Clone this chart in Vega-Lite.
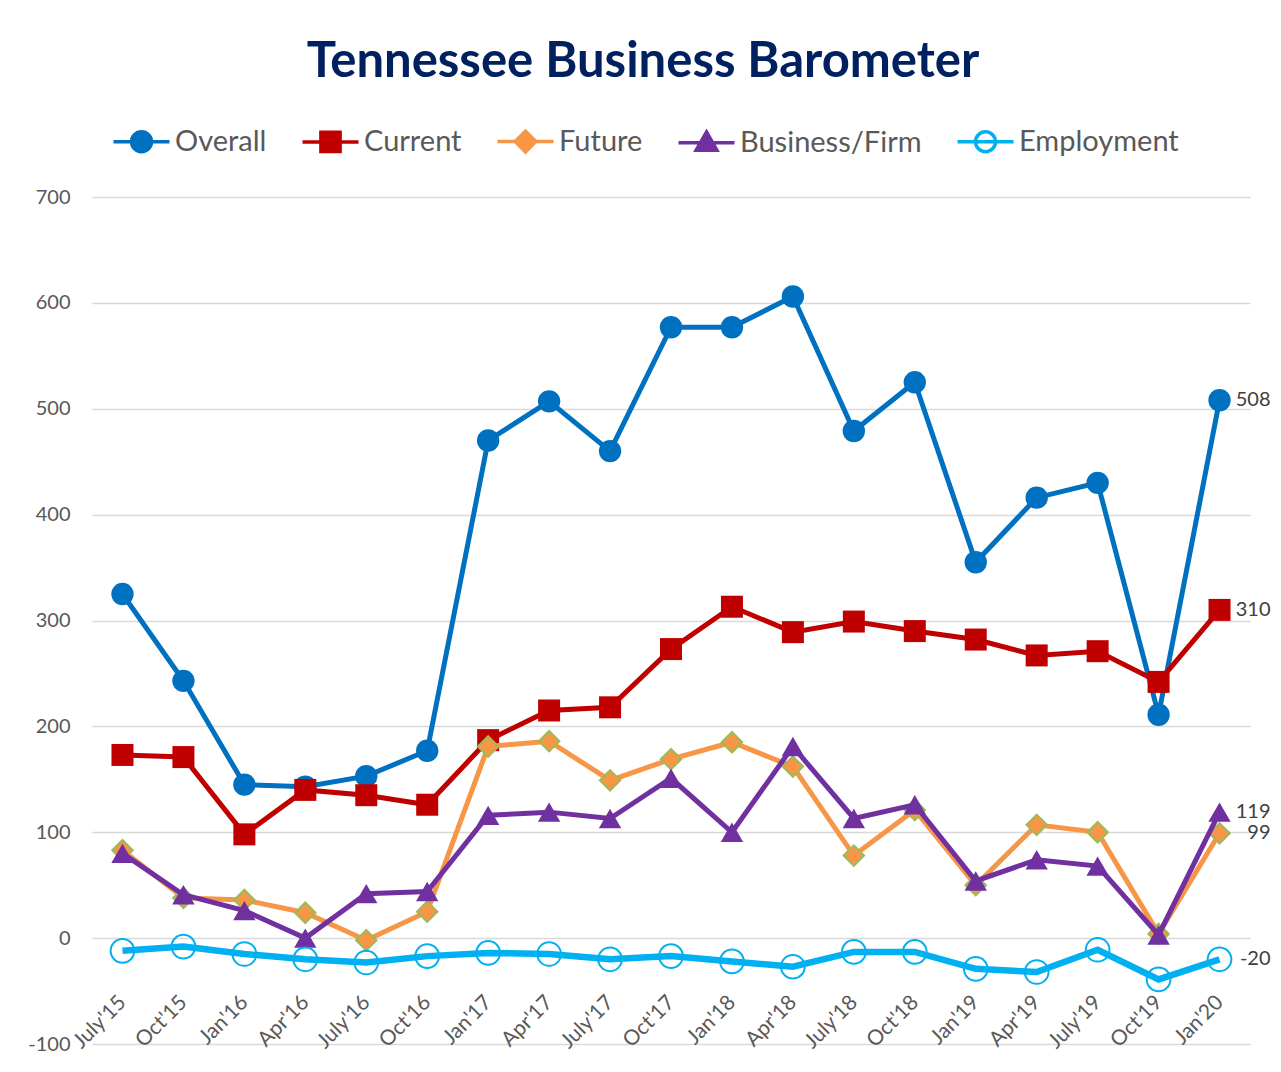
{
  "$schema": "https://vega.github.io/schema/vega-lite/v6.json",
  "width": 1158,
  "height": 847,
  "autosize": "none",
  "padding": {"left": 92, "top": 197, "right": 31, "bottom": 28},
  "background": "white",
  "title": {
    "text": "Tennessee Business Barometer",
    "font": "Lato",
    "fontSize": 49,
    "fontWeight": "bold",
    "color": "#002060",
    "anchor": "middle",
    "dx": -28,
    "offset": 40
  },
  "config": {
    "font": "Lato",
    "view": {"stroke": null}
  },
  "datasets": {
    "d": [
      {"m": "July'15", "s": "Overall", "v": 325}, {"m": "Oct'15", "s": "Overall", "v": 243}, {"m": "Jan'16", "s": "Overall", "v": 145}, {"m": "Apr'16", "s": "Overall", "v": 143}, {"m": "July'16", "s": "Overall", "v": 153}, {"m": "Oct'16", "s": "Overall", "v": 177}, {"m": "Jan'17", "s": "Overall", "v": 470}, {"m": "Apr'17", "s": "Overall", "v": 507}, {"m": "July'17", "s": "Overall", "v": 460}, {"m": "Oct'17", "s": "Overall", "v": 577}, {"m": "Jan'18", "s": "Overall", "v": 577}, {"m": "Apr'18", "s": "Overall", "v": 606}, {"m": "July'18", "s": "Overall", "v": 479}, {"m": "Oct'18", "s": "Overall", "v": 525}, {"m": "Jan'19", "s": "Overall", "v": 355}, {"m": "Apr'19", "s": "Overall", "v": 416}, {"m": "July'19", "s": "Overall", "v": 430}, {"m": "Oct'19", "s": "Overall", "v": 211}, {"m": "Jan'20", "s": "Overall", "v": 508},
      {"m": "July'15", "s": "Current", "v": 173}, {"m": "Oct'15", "s": "Current", "v": 171}, {"m": "Jan'16", "s": "Current", "v": 98}, {"m": "Apr'16", "s": "Current", "v": 140}, {"m": "July'16", "s": "Current", "v": 135}, {"m": "Oct'16", "s": "Current", "v": 126}, {"m": "Jan'17", "s": "Current", "v": 187}, {"m": "Apr'17", "s": "Current", "v": 215}, {"m": "July'17", "s": "Current", "v": 218}, {"m": "Oct'17", "s": "Current", "v": 273}, {"m": "Jan'18", "s": "Current", "v": 313}, {"m": "Apr'18", "s": "Current", "v": 289}, {"m": "July'18", "s": "Current", "v": 299}, {"m": "Oct'18", "s": "Current", "v": 290}, {"m": "Jan'19", "s": "Current", "v": 282}, {"m": "Apr'19", "s": "Current", "v": 267}, {"m": "July'19", "s": "Current", "v": 271}, {"m": "Oct'19", "s": "Current", "v": 242}, {"m": "Jan'20", "s": "Current", "v": 310},
      {"m": "July'15", "s": "Future", "v": 83}, {"m": "Oct'15", "s": "Future", "v": 38}, {"m": "Jan'16", "s": "Future", "v": 36}, {"m": "Apr'16", "s": "Future", "v": 24}, {"m": "July'16", "s": "Future", "v": -2}, {"m": "Oct'16", "s": "Future", "v": 25}, {"m": "Jan'17", "s": "Future", "v": 181}, {"m": "Apr'17", "s": "Future", "v": 186}, {"m": "July'17", "s": "Future", "v": 149}, {"m": "Oct'17", "s": "Future", "v": 169}, {"m": "Jan'18", "s": "Future", "v": 185}, {"m": "Apr'18", "s": "Future", "v": 162}, {"m": "July'18", "s": "Future", "v": 78}, {"m": "Oct'18", "s": "Future", "v": 121}, {"m": "Jan'19", "s": "Future", "v": 50}, {"m": "Apr'19", "s": "Future", "v": 107}, {"m": "July'19", "s": "Future", "v": 100}, {"m": "Oct'19", "s": "Future", "v": 4}, {"m": "Jan'20", "s": "Future", "v": 99},
      {"m": "July'15", "s": "Business/Firm", "v": 80}, {"m": "Oct'15", "s": "Business/Firm", "v": 41}, {"m": "Jan'16", "s": "Business/Firm", "v": 26}, {"m": "Apr'16", "s": "Business/Firm", "v": 0}, {"m": "July'16", "s": "Business/Firm", "v": 42}, {"m": "Oct'16", "s": "Business/Firm", "v": 44}, {"m": "Jan'17", "s": "Business/Firm", "v": 116}, {"m": "Apr'17", "s": "Business/Firm", "v": 119}, {"m": "July'17", "s": "Business/Firm", "v": 113}, {"m": "Oct'17", "s": "Business/Firm", "v": 151}, {"m": "Jan'18", "s": "Business/Firm", "v": 100}, {"m": "Apr'18", "s": "Business/Firm", "v": 181}, {"m": "July'18", "s": "Business/Firm", "v": 113}, {"m": "Oct'18", "s": "Business/Firm", "v": 126}, {"m": "Jan'19", "s": "Business/Firm", "v": 54}, {"m": "Apr'19", "s": "Business/Firm", "v": 74}, {"m": "July'19", "s": "Business/Firm", "v": 68}, {"m": "Oct'19", "s": "Business/Firm", "v": 3}, {"m": "Jan'20", "s": "Business/Firm", "v": 119},
      {"m": "July'15", "s": "Employment", "v": -12}, {"m": "Oct'15", "s": "Employment", "v": -8}, {"m": "Jan'16", "s": "Employment", "v": -15}, {"m": "Apr'16", "s": "Employment", "v": -20}, {"m": "July'16", "s": "Employment", "v": -23}, {"m": "Oct'16", "s": "Employment", "v": -17}, {"m": "Jan'17", "s": "Employment", "v": -14}, {"m": "Apr'17", "s": "Employment", "v": -15}, {"m": "July'17", "s": "Employment", "v": -20}, {"m": "Oct'17", "s": "Employment", "v": -17}, {"m": "Jan'18", "s": "Employment", "v": -22}, {"m": "Apr'18", "s": "Employment", "v": -27}, {"m": "July'18", "s": "Employment", "v": -13}, {"m": "Oct'18", "s": "Employment", "v": -13}, {"m": "Jan'19", "s": "Employment", "v": -29}, {"m": "Apr'19", "s": "Employment", "v": -32}, {"m": "July'19", "s": "Employment", "v": -11}, {"m": "Oct'19", "s": "Employment", "v": -39}, {"m": "Jan'20", "s": "Employment", "v": -20}
    ]
  },
  "data": {"name": "d"},
  "encoding": {
    "x": {
      "field": "m", "type": "ordinal", "title": null,
      "scale": {"type": "point", "padding": 0.5, "domain": ["July'15","Oct'15","Jan'16","Apr'16","July'16","Oct'16","Jan'17","Apr'17","July'17","Oct'17","Jan'18","Apr'18","July'18","Oct'18","Jan'19","Apr'19","July'19","Oct'19","Jan'20"]},
      "axis": {"labelAngle": -45, "labelAlign": "right", "labelBaseline": "middle", "labelFont": "Lato", "labelFontSize": 21, "labelColor": "#595959", "domain": false, "ticks": false, "grid": false, "offset": -45, "labelPadding": 0}
    },
    "y": {
      "field": "v", "type": "quantitative", "title": null,
      "scale": {"domain": [-100, 700], "nice": false},
      "axis": {"values": [-100, 0, 100, 200, 300, 400, 500, 600, 700], "labelExpr": "toString(datum.value)", "labelFont": "Lato", "labelFontSize": 20, "labelColor": "#595959", "labelPadding": 22, "domain": false, "ticks": false, "grid": true, "gridColor": "#D9D9D9", "gridWidth": 1.5}
    }
  },
  "layer": [
    {
      "transform": [{"filter": "false"}],
      "mark": {"type": "point", "filled": true, "size": 256, "opacity": 1},
      "encoding": {
        "fill": {"field": "s", "type": "nominal", "scale": {"domain": ["Overall", "Current", "Future", "Business/Firm", "Employment"], "range": ["#0070C0", "#C00000", "#F79646", "#7030A0", "white"]}, "legend": {
          "orient": "none", "direction": "horizontal", "legendX": 35, "legendY": -70,
          "title": null, "padding": 0, "labelLimit": 0,
          "labelFont": "Lato", "labelFontSize": 29, "labelColor": "#595959",
          "labelOffset": 19, "columnPadding": 28, "symbolSize": 256, "symbolStrokeWidth": 3.5, "symbolOpacity": 1
        }},
        "stroke": {"field": "s", "type": "nominal", "scale": {"domain": ["Overall", "Current", "Future", "Business/Firm", "Employment"], "range": ["#0070C0", "#C00000", "#F79646", "#7030A0", "#00B0F0"]}},
        "shape": {"field": "s", "type": "nominal", "scale": {"domain": ["Overall", "Current", "Future", "Business/Firm", "Employment"], "range": [
          "M-3.5,0H3.5M-1.25,0A1.25,1.25 0 1,0 1.25,0A1.25,1.25 0 1,0 -1.25,0Z",
          "M-3.5,0H3.5M-1.2,-1.2H1.2V1.2H-1.2Z",
          "M-3.5,0H3.5M-1.3,0L0,-1.3L1.3,0L0,1.3Z",
          "M-3.5,0H3.5M0,-1.35L1.3,0.95L-1.3,0.95Z",
          "M-3.5,0H3.5M-1.25,0A1.25,1.25 0 1,0 1.25,0A1.25,1.25 0 1,0 -1.25,0Z"
        ]}}
      }
    },
    {"transform": [{"filter": "datum.s === 'Overall'"}], "mark": {"type": "line", "strokeWidth": 5, "color": "#0070C0"}},
    {"transform": [{"filter": "datum.s === 'Overall'"}], "mark": {"type": "point", "shape": "circle", "filled": true, "size": 500, "color": "#0070C0", "opacity": 1}},
    {"transform": [{"filter": "datum.s === 'Current'"}], "mark": {"type": "line", "strokeWidth": 5, "color": "#C00000"}},
    {"transform": [{"filter": "datum.s === 'Current'"}], "mark": {"type": "point", "shape": "square", "filled": true, "size": 484, "color": "#C00000", "opacity": 1}},
    {"transform": [{"filter": "datum.s === 'Future'"}], "mark": {"type": "line", "strokeWidth": 5, "color": "#F79646"}},
    {"transform": [{"filter": "datum.s === 'Future'"}], "mark": {"type": "point", "shape": "diamond", "filled": true, "size": 420, "fill": "#F79646", "stroke": "#9BBB59", "strokeWidth": 2, "opacity": 1}},
    {"transform": [{"filter": "datum.s === 'Business/Firm'"}], "mark": {"type": "line", "strokeWidth": 5, "color": "#7030A0"}},
    {"transform": [{"filter": "datum.s === 'Business/Firm'"}], "mark": {"type": "point", "shape": "triangle-up", "filled": true, "size": 500, "color": "#7030A0", "opacity": 1}},
    {"transform": [{"filter": "datum.s === 'Employment'"}], "mark": {"type": "line", "strokeWidth": 6.5, "color": "#00B0F0"}},
    {"transform": [{"filter": "datum.s === 'Employment'"}], "mark": {"type": "point", "shape": "circle", "filled": false, "size": 560, "stroke": "#00B0F0", "strokeWidth": 2, "opacity": 1}},
    {
      "transform": [{"filter": "datum.m === \"Jan'20\""}],
      "mark": {"type": "text", "align": "right", "baseline": "middle", "dx": 51, "fontSize": 20, "font": "Lato", "color": "#404040"},
      "encoding": {
        "text": {"field": "v", "type": "nominal"}
      }
    }
  ]
}
